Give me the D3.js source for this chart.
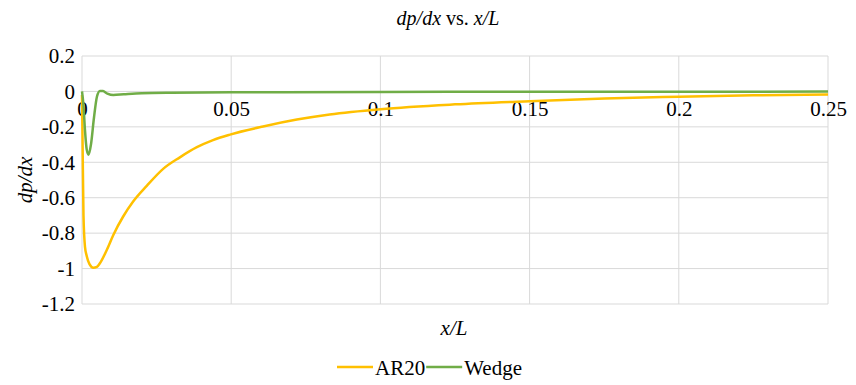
<!DOCTYPE html>
<html>
<head>
<meta charset="utf-8">
<script src="https://cdn.jsdelivr.net/npm/d3@7"></script>
<style>
  body { margin: 0; background: #fff; }
  svg text { font-family: "Liberation Serif", "DejaVu Serif", serif; fill: #000; }
</style>
</head>
<body>
<svg id="chart" width="856" height="385"></svg>
<script>
// x/L positions and dp/dx values
const ar20X = [0, 0.0002, 0.0005, 0.001, 0.0016, 0.0025, 0.0038, 0.005, 0.006, 0.0083, 0.0105, 0.0138, 0.0172, 0.0217, 0.0272, 0.0328, 0.0385, 0.0439, 0.0496, 0.0607, 0.072, 0.083, 0.1, 0.125, 0.15, 0.175, 0.2, 0.225, 0.25];
const ar20Y = [-0.02, -0.3, -0.7, -0.877, -0.93, -0.975, -0.995, -0.99, -0.97, -0.895, -0.81, -0.706, -0.62, -0.533, -0.437, -0.372, -0.315, -0.275, -0.244, -0.198, -0.159, -0.13, -0.1, -0.073, -0.055, -0.04, -0.03, -0.022, -0.017];
const wedgeX = [0, 0.0005, 0.001, 0.0016, 0.0022, 0.003, 0.004, 0.005, 0.006, 0.007, 0.0085, 0.0105, 0.014, 0.02, 0.03, 0.05, 0.1, 0.15, 0.2, 0.25];
const wedgeY = [0, -0.08, -0.22, -0.33, -0.357, -0.3, -0.15, -0.03, 0.003, 0.002, -0.012, -0.02, -0.016, -0.01, -0.007, -0.005, -0.003, -0.002, -0.002, -0.001];
const xTicks = [0, 0.05, 0.1, 0.15, 0.2, 0.25];
const yTicks = [0.2, 0, -0.2, -0.4, -0.6, -0.8, -1, -1.2];
const seriesNames = ['AR20', 'Wedge'];
const seriesColors = ['#FFC000', '#70AD47'];

const svg = d3.select('#chart');
const pl = 82, pr = 828, pt = 56, pb = 304;
const serif = '"Liberation Serif", "DejaVu Serif", serif';

const x = d3.scaleLinear().domain([0, 0.25]).range([pl, pr]);
const y = d3.scaleLinear().domain([-1.2, 0.2]).range([pb, pt]);

// grid
svg.append('g')
  .selectAll('line')
  .data(yTicks)
  .join('line')
  .attr('x1', pl).attr('x2', pr)
  .attr('y1', (d) => y(d)).attr('y2', (d) => y(d))
  .attr('stroke', '#d9d9d9').attr('stroke-width', 1);
svg.append('g')
  .selectAll('line')
  .data(xTicks)
  .join('line')
  .attr('x1', (d) => x(d)).attr('x2', (d) => x(d))
  .attr('y1', pt).attr('y2', pb)
  .attr('stroke', '#d9d9d9').attr('stroke-width', 1);

// y tick labels
const yAxis = d3.axisLeft(y).tickValues(yTicks).tickSize(0).tickPadding(7)
  .tickFormat((d) => String(+d.toFixed(1)));
svg.append('g')
  .attr('transform', `translate(${pl},0)`)
  .attr('font-family', serif)
  .call(yAxis)
  .call((g) => g.select('.domain').remove())
  .call((g) => g.selectAll('.tick text')
    .attr('font-size', 21)
    .attr('fill', '#000'));

// x tick labels sit under the zero line
const xAxis = d3.axisBottom(x).tickValues(xTicks).tickSize(0).tickPadding(10)
  .tickFormat((d) => String(+d.toFixed(2)));
svg.append('g')
  .attr('transform', `translate(0,${y(0)})`)
  .call(xAxis)
  .attr('font-family', serif)
  .call((g) => g.select('.domain').remove())
  .call((g) => g.selectAll('.tick text')
    .attr('font-size', 21)
    .attr('fill', '#000'));

// lines
const line = d3.line()
  .x((d) => x(d[0]))
  .y((d) => y(d[1]))
  .curve(d3.curveMonotoneX);

const series = [
  d3.zip(ar20X, ar20Y),
  d3.zip(wedgeX, wedgeY),
];

svg.append('g')
  .selectAll('path')
  .data(series)
  .join('path')
  .attr('fill', 'none')
  .attr('stroke', (d, i) => seriesColors[i])
  .attr('stroke-width', 2.5)
  .attr('stroke-linejoin', 'round')
  .attr('d', line);

// title
const title = svg.append('text')
  .attr('x', 448).attr('y', 25)
  .attr('text-anchor', 'middle')
  .attr('font-size', 20);
title.append('tspan').attr('font-style', 'italic').text('dp/dx');
title.append('tspan').text(' vs. ');
title.append('tspan').attr('font-style', 'italic').text('x/L');

// axis titles
svg.append('text')
  .attr('x', 454).attr('y', 335)
  .attr('text-anchor', 'middle')
  .attr('font-size', 21)
  .attr('font-style', 'italic')
  .text('x/L');

svg.append('text')
  .attr('transform', `translate(32,${(pt + pb) / 2}) rotate(-90)`)
  .attr('text-anchor', 'middle')
  .attr('font-size', 21)
  .attr('font-style', 'italic')
  .text('dp/dx');

// legend
const legend = svg.append('g').attr('transform', 'translate(337,367)');
let lx = 0;
seriesNames.forEach((name, i) => {
  legend.append('line')
    .attr('x1', lx).attr('x2', lx + 36)
    .attr('y1', 0).attr('y2', 0)
    .attr('stroke', seriesColors[i]).attr('stroke-width', 2.5);
  const t = legend.append('text')
    .attr('x', lx + 38).attr('y', 8)
    .attr('font-size', 21)
    .text(name);
  lx += 38 + t.node().getComputedTextLength() + 1;
});
</script>
</body>
</html>
